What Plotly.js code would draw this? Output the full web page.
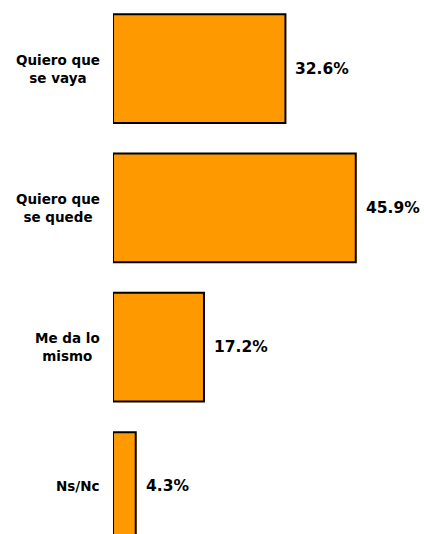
<!DOCTYPE html>
<html>
<head>
<meta charset="utf-8">
<script src="https://cdn.plot.ly/plotly-3.0.1.min.js"></script>
<style>html,body{margin:0;padding:0;background:#fff;}#chart{width:424px;height:534px;}</style>
</head>
<body>
<div id="chart"></div>
<script>
const categories = ["Quiero que se vaya", "Quiero que se quede", "Me da lo mismo", "Ns/Nc"];
const categoryLabels = ["Quiero que<br>se vaya", "Quiero que<br>se quede", "Me da lo<br>mismo", "Ns/Nc"];
const values = [32.6, 45.9, 17.2, 4.3];

const fontFam = "DejaVu Sans, Verdana, sans-serif";

const trace = {
  type: "bar",
  orientation: "h",
  y: categories,
  x: values,
  width: 0.78,
  marker: { color: "#FF9900", line: { color: "#000000", width: 2 } },
  hoverinfo: "none"
};

const annotations = [];
categories.forEach((c, i) => {
  annotations.push({
    xref: "paper", yref: "y", x: 0, y: c, xshift: -11,
    xanchor: "right", yanchor: "middle", align: "center",
    text: "<b>" + categoryLabels[i] + "</b>", showarrow: false,
    font: { family: fontFam, size: 13.5, color: "#000" }
  });
  annotations.push({
    xref: "x", yref: "y", x: values[i], y: c, xshift: 8,
    xanchor: "left", yanchor: "middle", align: "left",
    text: "<b>" + values[i].toFixed(1) + "%</b>", showarrow: false,
    font: { family: fontFam, size: 15.5, color: "#000" }
  });
});

const layout = {
  width: 424, height: 534,
  margin: { l: 113, r: 0, t: 0, b: 0, pad: 0 },
  paper_bgcolor: "#fff", plot_bgcolor: "#fff",
  showlegend: false,
  bargap: 0.22,
  xaxis: { range: [0, 58.8], visible: false, showgrid: false, zeroline: false },
  yaxis: { type: "category", range: [3.341, -0.492], visible: false, showgrid: false, zeroline: false },
  annotations: annotations
};

Plotly.newPlot("chart", [trace], layout, { staticPlot: true, displayModeBar: false });
</script>
</body>
</html>
